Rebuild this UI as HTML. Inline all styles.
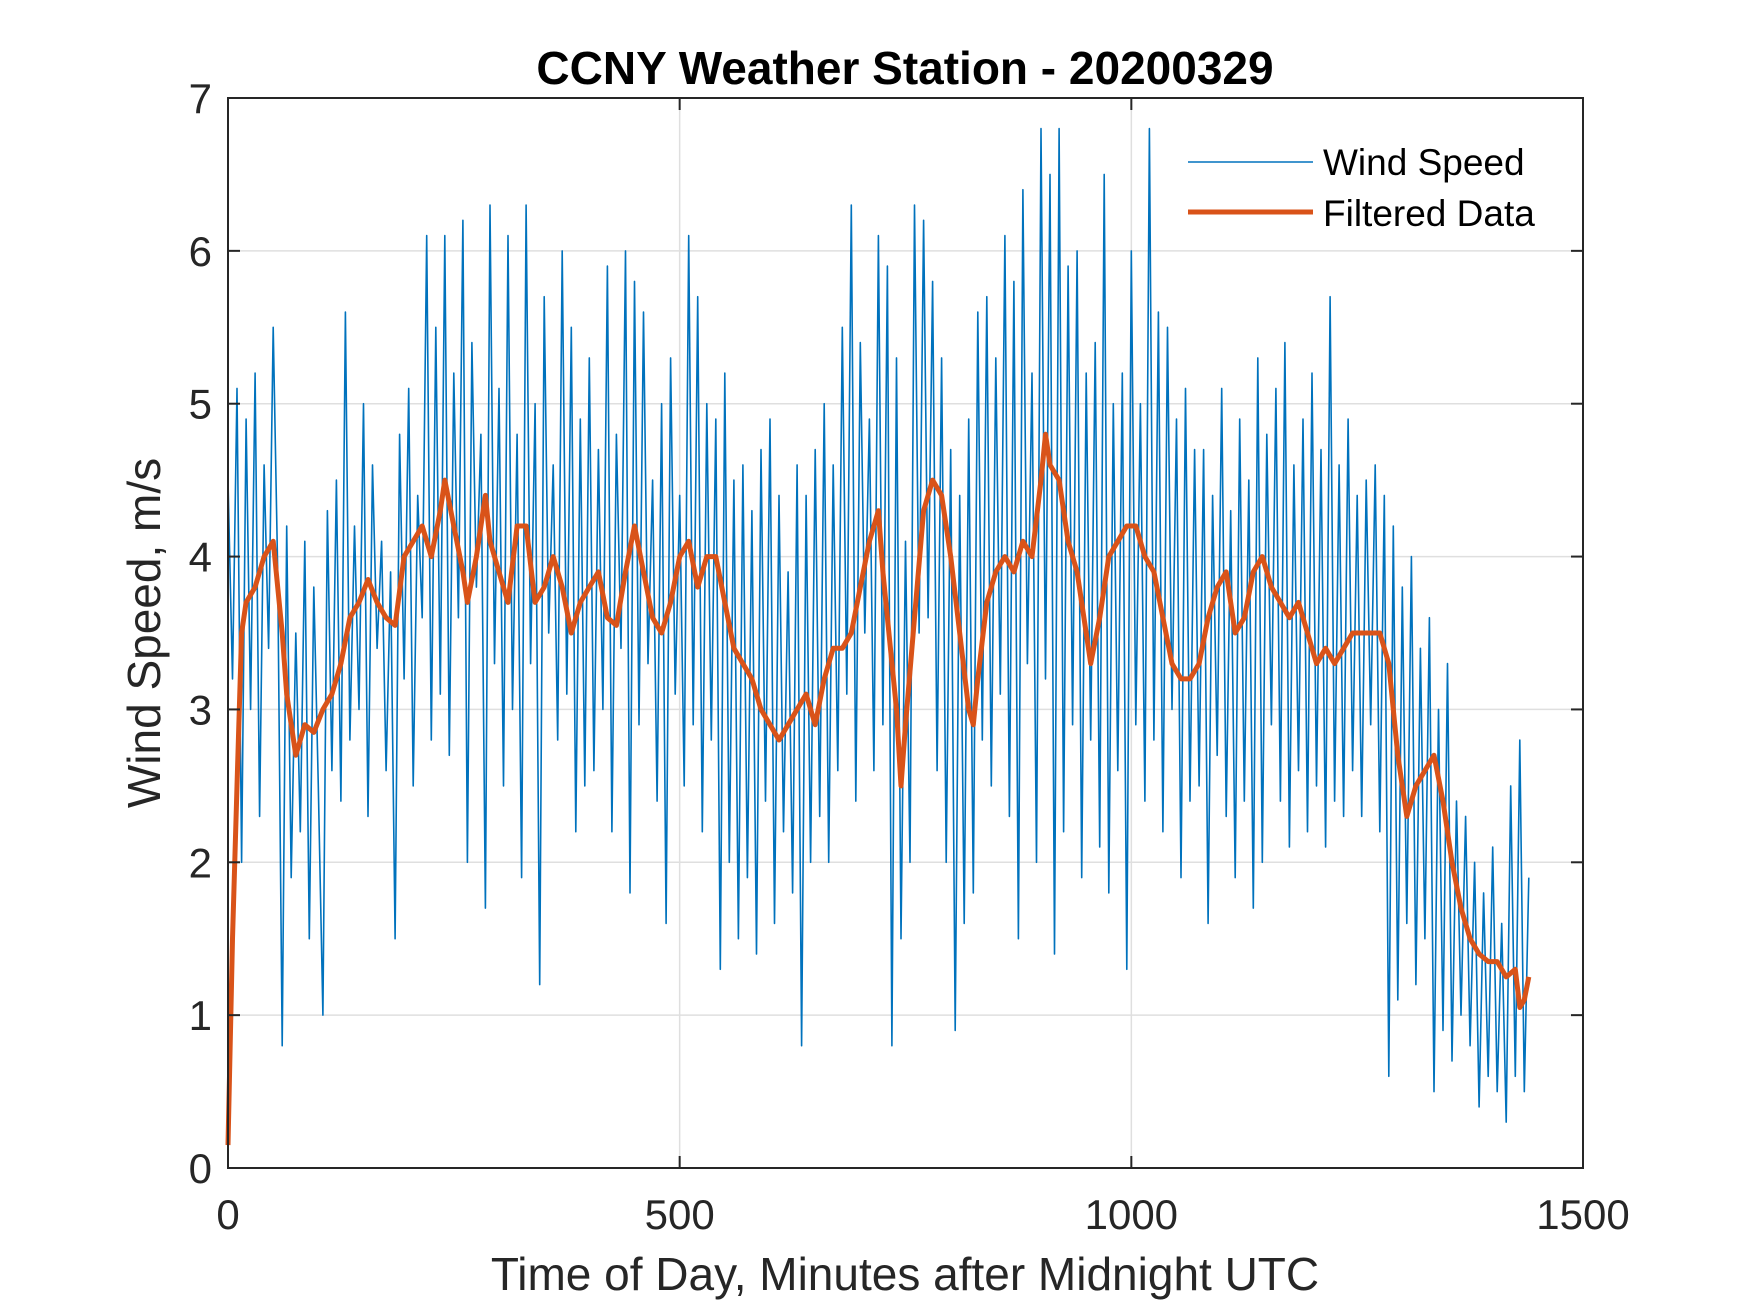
<!DOCTYPE html>
<html><head><meta charset="utf-8"><style>
html,body{margin:0;padding:0;background:#fff;}
svg{display:block;font-family:"Liberation Sans",Arial,sans-serif;}
</style></head><body>
<svg id="chart" width="1750" height="1313" viewBox="0 0 1750 1313">
<rect x="0" y="0" width="1750" height="1313" fill="#fff"/>
<g id="grid"></g>
<g id="series"></g>
<rect x="228" y="98" width="1355" height="1070" fill="none" stroke="#262626" stroke-width="2"/>
<g id="ticks"></g>
<text x="905" y="84" text-anchor="middle" font-size="46" font-weight="bold" fill="#000">CCNY Weather Station - 20200329</text>
<text x="905" y="1290" text-anchor="middle" font-size="46" fill="#262626">Time of Day, Minutes after Midnight UTC</text>
<text x="0" y="0" transform="translate(160,633) rotate(-90)" text-anchor="middle" font-size="46" fill="#262626">Wind Speed, m/s</text>
<g>
<line x1="1188" y1="162" x2="1313" y2="162" stroke="#0072BD" stroke-width="1.6"/>
<text x="1323" y="175" font-size="37" fill="#000">Wind Speed</text>
<line x1="1188" y1="212" x2="1313" y2="212" stroke="#D95319" stroke-width="5"/>
<text x="1323" y="226" font-size="37" fill="#000">Filtered Data</text>
</g>
</svg>
<script>
const xTicks=[0,500,1000,1500];
const yTicks=[0,1,2,3,4,5,6,7];
const rawStep=5;
const rawValues=[
4.5,3.2,5.1,2.0,4.9,3.0,5.2,2.3,4.6,3.4,5.5,3.9,
0.8,4.2,1.9,3.5,2.2,4.1,1.5,3.8,2.5,1.0,4.3,2.6,
4.5,2.4,5.6,2.8,4.2,3.0,5.0,2.3,4.6,3.4,4.1,2.6,
3.9,1.5,4.8,3.2,5.1,2.5,4.4,3.6,6.1,2.8,5.5,3.1,
6.1,2.7,5.2,3.6,6.2,2.0,5.4,3.8,4.8,1.7,6.3,3.3,
5.1,2.5,6.1,3.0,4.8,1.9,6.3,3.3,5.0,1.2,5.7,3.5,
4.6,2.8,6.0,3.1,5.5,2.2,4.9,2.5,5.3,2.6,4.7,3.0,
5.9,2.2,4.8,3.4,6.0,1.8,5.8,2.9,5.6,3.3,4.5,2.4,
5.0,1.6,5.3,3.1,4.4,2.5,6.1,2.9,5.7,2.2,5.0,2.8,
4.9,1.3,5.2,2.0,4.5,1.5,4.6,1.9,4.3,1.4,4.7,2.4,
4.9,1.6,4.4,2.2,3.9,1.8,4.6,0.8,4.4,2.0,4.7,2.3,
5.0,2.0,4.6,2.6,5.5,3.1,6.3,2.4,5.4,3.5,4.9,2.6,
6.1,2.9,5.9,0.8,5.3,1.5,4.1,2.0,6.3,3.5,6.2,3.6,
5.8,2.6,5.3,2.0,4.7,0.9,4.4,1.6,4.9,1.8,5.6,2.8,
5.7,2.5,5.3,3.1,6.1,2.3,5.8,1.5,6.4,3.3,5.2,2.0,
6.8,3.2,6.5,1.4,6.8,2.2,5.9,2.9,6.0,1.9,5.2,2.8,
5.4,2.1,6.5,1.8,5.0,2.6,5.2,1.3,6.0,2.9,5.0,2.4,
6.8,2.8,5.6,2.2,5.5,3.0,4.9,1.9,5.1,2.4,4.7,2.5,
4.7,1.6,4.4,2.7,5.1,2.3,4.3,1.9,4.9,2.4,4.5,1.7,
5.3,2.0,4.8,2.9,5.1,2.4,5.4,2.1,4.6,2.6,4.9,2.2,
5.2,2.5,4.7,2.1,5.7,2.4,4.6,2.3,4.9,2.6,4.4,2.3,
4.5,2.9,4.6,2.2,4.4,0.6,4.2,1.1,3.8,1.6,4.0,1.2,
3.4,1.5,3.6,0.5,3.0,0.9,3.3,0.7,2.4,1.0,2.3,0.8,
2.0,0.4,1.8,0.6,2.1,0.5,1.6,0.3,2.5,0.6,2.8,0.5,
1.9];
const filtMinutes=[0,5,10,15,20,30,40,50,55,60,65,75,85,95,105,115,125,135,145,155,165,175,185,195,205,215,225,235,240,250,260,265,275,285,290,300,310,320,330,340,350,360,370,380,390,400,410,420,430,440,450,460,470,480,490,500,510,520,530,540,550,560,570,580,590,600,610,620,630,640,650,660,670,680,690,700,710,720,725,730,740,745,750,760,770,780,790,800,810,820,825,830,840,850,860,870,880,890,900,905,910,920,930,940,950,955,965,975,985,995,1005,1015,1025,1035,1045,1055,1065,1075,1085,1095,1105,1115,1125,1135,1145,1155,1165,1175,1185,1195,1205,1215,1225,1235,1245,1255,1265,1275,1285,1295,1305,1315,1325,1335,1345,1355,1365,1375,1385,1395,1405,1415,1425,1430,1435,1440];
const filtValues=[0.15,1.5,2.5,3.5,3.7,3.8,4.0,4.1,3.8,3.5,3.1,2.7,2.9,2.85,3.0,3.1,3.3,3.6,3.7,3.85,3.7,3.6,3.55,4.0,4.1,4.2,4.0,4.3,4.5,4.2,3.9,3.7,4.0,4.4,4.1,3.9,3.7,4.2,4.2,3.7,3.8,4.0,3.8,3.5,3.7,3.8,3.9,3.6,3.55,3.9,4.2,3.9,3.6,3.5,3.7,4.0,4.1,3.8,4.0,4.0,3.7,3.4,3.3,3.2,3.0,2.9,2.8,2.9,3.0,3.1,2.9,3.2,3.4,3.4,3.5,3.8,4.1,4.3,3.9,3.6,3.0,2.5,2.9,3.6,4.3,4.5,4.4,4.0,3.5,3.0,2.9,3.2,3.7,3.9,4.0,3.9,4.1,4.0,4.5,4.8,4.6,4.5,4.1,3.9,3.5,3.3,3.6,4.0,4.1,4.2,4.2,4.0,3.9,3.6,3.3,3.2,3.2,3.3,3.6,3.8,3.9,3.5,3.6,3.9,4.0,3.8,3.7,3.6,3.7,3.5,3.3,3.4,3.3,3.4,3.5,3.5,3.5,3.5,3.3,2.7,2.3,2.5,2.6,2.7,2.4,2.0,1.7,1.5,1.4,1.35,1.35,1.25,1.3,1.05,1.1,1.25];

const NS='http://www.w3.org/2000/svg';
const X0=228,X1=1583,Y0=1168,Y1=98;
function xs(v){return X0+(v-0)/(1500-0)*(X1-X0);}
function ys(v){return Y0-(v-0)/(7-0)*(Y0-Y1);}
function mk(tag,attrs,parent){const e=document.createElementNS(NS,tag);for(const k in attrs)e.setAttribute(k,attrs[k]);parent.appendChild(e);return e;}
const grid=document.getElementById('grid'),ticks=document.getElementById('ticks'),series=document.getElementById('series');
xTicks.forEach(t=>{
  const x=xs(t);
  if(t>0&&t<1500){const g=mk('line',{x1:x,y1:Y0,x2:x,y2:Y1,stroke:'#dfdfdf','stroke-width':1.5},grid);
  
  }
  const a=mk('line',{x1:x,y1:Y0,x2:x,y2:Y0-12,stroke:'#262626','stroke-width':2},ticks);
  
  
  const b=mk('line',{x1:x,y1:Y1,x2:x,y2:Y1+12,stroke:'#262626','stroke-width':2},ticks);
  
  
  const l=mk('text',{x:x,y:1229,'text-anchor':'middle','font-size':42,fill:'#262626'},ticks);
  l.textContent=t;
  
  
});
yTicks.forEach(t=>{
  const y=ys(t);
  if(t>0&&t<7){const g=mk('line',{x1:X0,y1:y,x2:X1,y2:y,stroke:'#dfdfdf','stroke-width':1.5},grid);
  
  }
  const a=mk('line',{x1:X0,y1:y,x2:X0+12,y2:y,stroke:'#262626','stroke-width':2},ticks);
  
  
  const b=mk('line',{x1:X1,y1:y,x2:X1-12,y2:y,stroke:'#262626','stroke-width':2},ticks);
  
  
  const l=mk('text',{x:212,y:y+15,'text-anchor':'end','font-size':42,fill:'#262626'},ticks);
  l.textContent=t;
  
  
});
const rp=rawValues.map((v,i)=>xs(i*rawStep).toFixed(1)+','+ys(v).toFixed(1)).join(' ');
const raw=mk('polyline',{points:rp,fill:'none',stroke:'#0072BD','stroke-width':1.6,'stroke-linejoin':'round'},series);


const fp=filtValues.map((v,i)=>xs(filtMinutes[i]).toFixed(1)+','+ys(v).toFixed(1)).join(' ');
const filt=mk('polyline',{points:fp,fill:'none',stroke:'#D95319','stroke-width':5,'stroke-linejoin':'round'},series);


</script>
</body></html>
